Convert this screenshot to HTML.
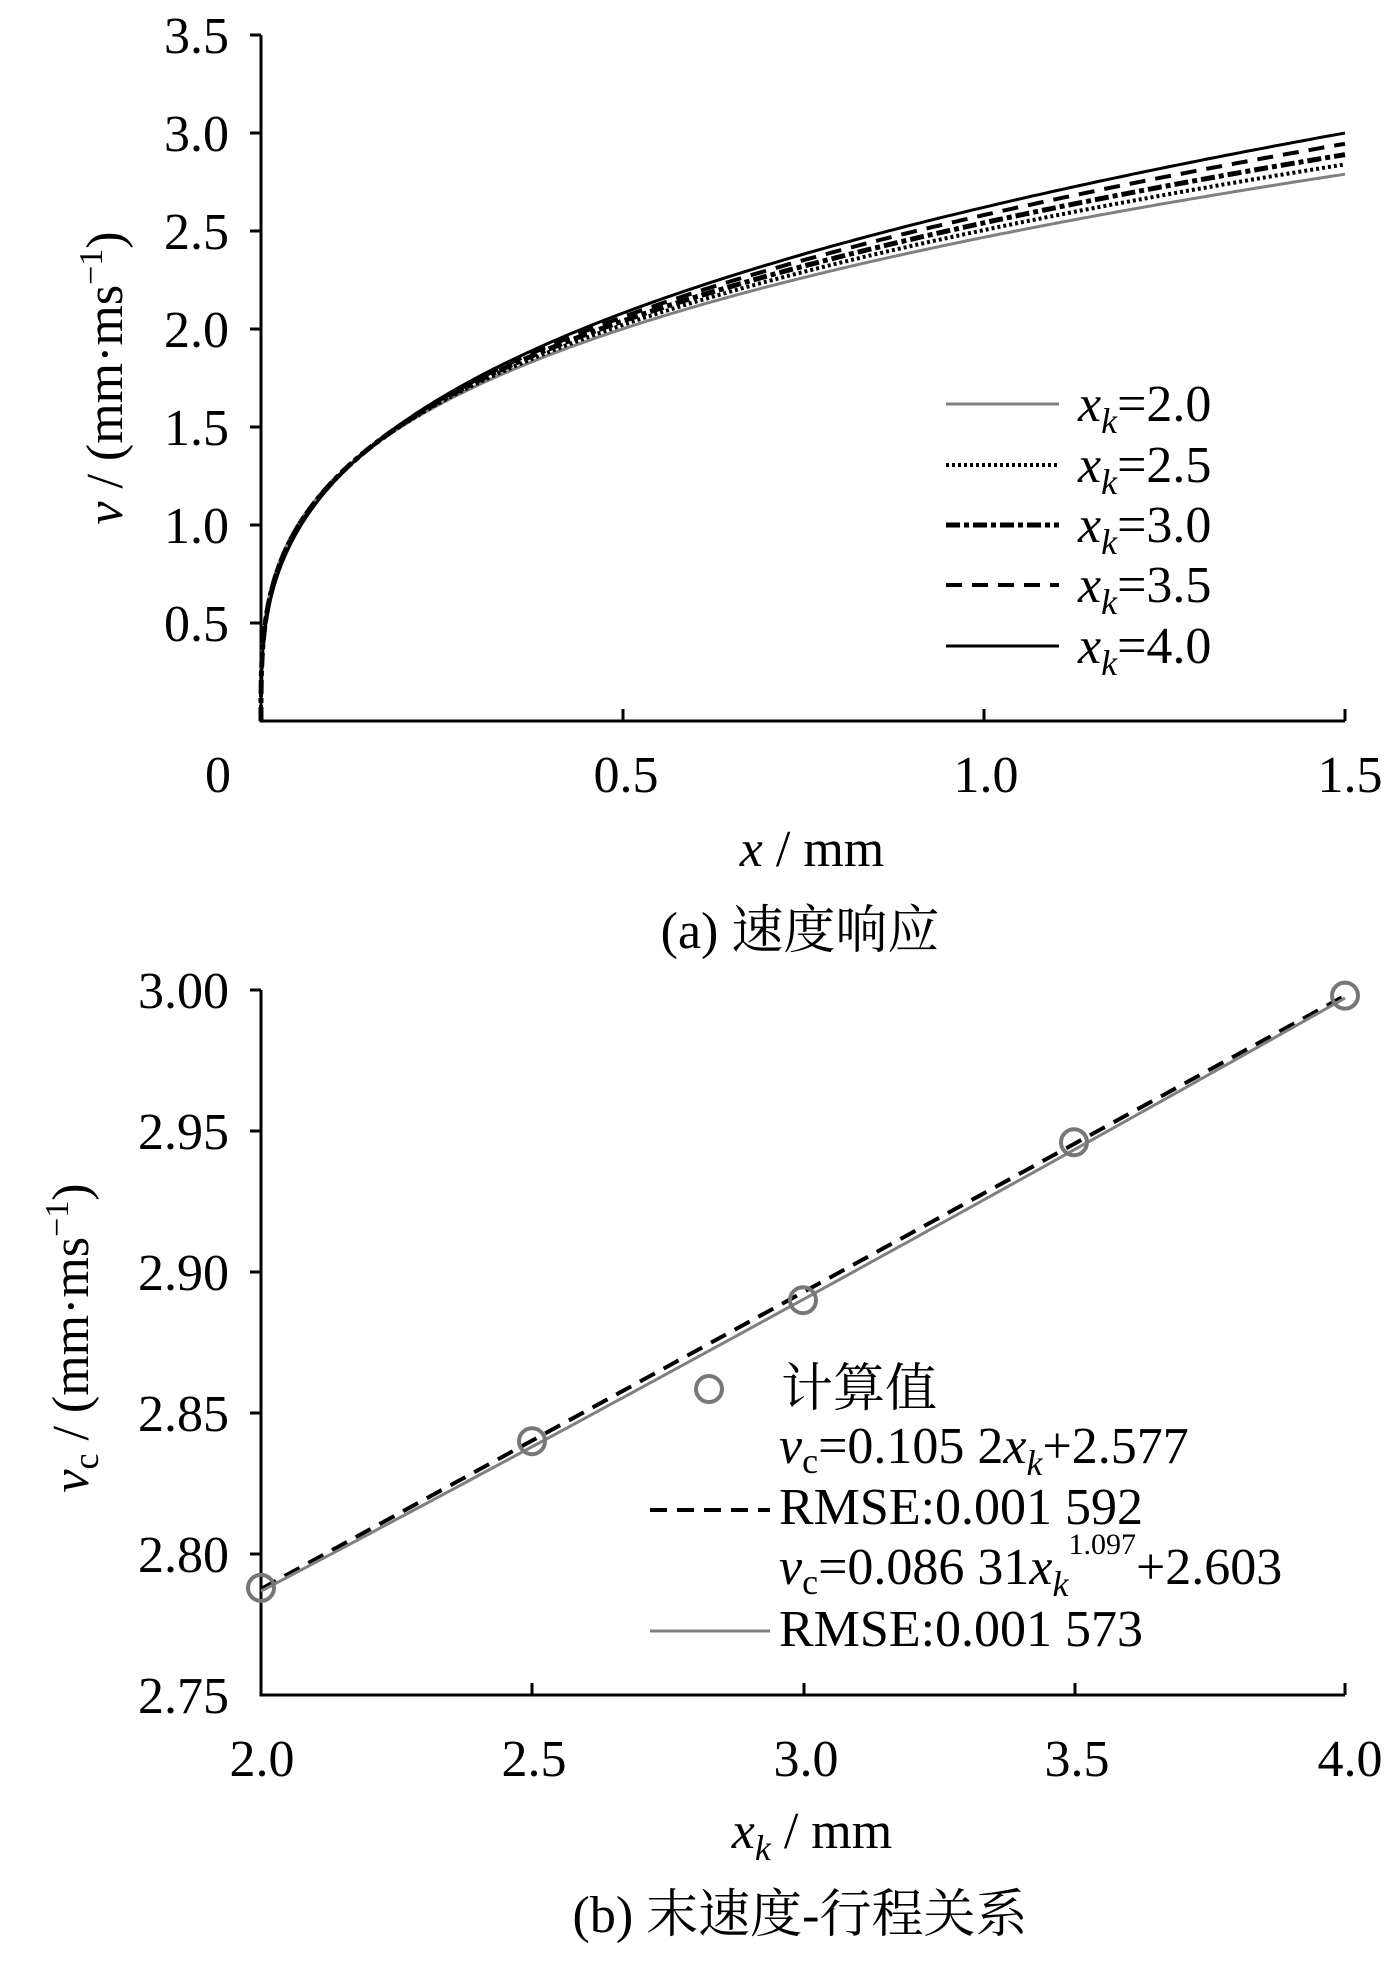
<!DOCTYPE html>
<html><head><meta charset="utf-8">
<style>
html,body{margin:0;padding:0;background:#fff;}
svg{display:block;}
text{font-family:"Liberation Serif","Noto Serif CJK SC","Noto Sans CJK SC",serif;fill:#000;}
</style></head>
<body>
<svg id="s" width="1390" height="1966" viewBox="0 0 1390 1966" xmlns="http://www.w3.org/2000/svg">
<g font-size="52">
<!-- Plot A axes -->
<path d="M261 35 V721 H1345" fill="none" stroke="#000" stroke-width="3"/>
<path d="M250 35H261 M250 133H261 M250 231H261 M250 329H261 M250 427H261 M250 525H261 M250 623H261 M623 721V709 M984 721V709 M1345 721V709" stroke="#000" stroke-width="3"/>
<g text-anchor="end">
<text x="229" y="53">3.5</text><text x="229" y="151">3.0</text><text x="229" y="249">2.5</text>
<text x="229" y="347">2.0</text><text x="229" y="445">1.5</text><text x="229" y="543">1.0</text><text x="229" y="641">0.5</text>
</g>
<g text-anchor="middle">
<text x="218" y="792">0</text><text x="626" y="792">0.5</text><text x="986" y="792">1.0</text><text x="1350" y="792">1.5</text>
<text x="812" y="866"><tspan font-style="italic">x</tspan> / mm</text>
<text x="800" y="948">(a) 速度响应</text>
</g>
<text transform="translate(122,378) rotate(-90)" text-anchor="middle"><tspan font-style="italic">v</tspan> / (mm·ms<tspan dy="-20" font-size="34">−1</tspan><tspan dy="20">)</tspan></text>
<g id="ca"></g>
<!-- legend A -->
<path d="M946 404H1059" stroke="#808080" stroke-width="3"/>
<path d="M946 465H1059" stroke="#000" stroke-width="4" stroke-dasharray="3 3"/>
<path d="M946 525H1059" stroke="#000" stroke-width="5" stroke-dasharray="14 4 5 4"/>
<path d="M946 585H1059" stroke="#000" stroke-width="4" stroke-dasharray="16 10"/>
<path d="M946 646H1059" stroke="#000" stroke-width="3"/>
<g>
<text x="1078" y="421"><tspan font-style="italic">x<tspan font-size="36" dy="12">k</tspan></tspan><tspan dy="-12">=2.0</tspan></text>
<text x="1078" y="482"><tspan font-style="italic">x<tspan font-size="36" dy="12">k</tspan></tspan><tspan dy="-12">=2.5</tspan></text>
<text x="1078" y="542"><tspan font-style="italic">x<tspan font-size="36" dy="12">k</tspan></tspan><tspan dy="-12">=3.0</tspan></text>
<text x="1078" y="602"><tspan font-style="italic">x<tspan font-size="36" dy="12">k</tspan></tspan><tspan dy="-12">=3.5</tspan></text>
<text x="1078" y="663"><tspan font-style="italic">x<tspan font-size="36" dy="12">k</tspan></tspan><tspan dy="-12">=4.0</tspan></text>
</g>

<!-- Plot B axes -->
<path d="M261 990 V1695 H1345" fill="none" stroke="#000" stroke-width="3"/>
<path d="M250 990H261 M250 1131H261 M250 1272H261 M250 1413H261 M250 1554H261 M532 1695V1683 M804 1695V1683 M1075 1695V1683 M1345 1695V1683" stroke="#000" stroke-width="3"/>
<g text-anchor="end">
<text x="229" y="1008">3.00</text><text x="229" y="1149">2.95</text><text x="229" y="1290">2.90</text>
<text x="229" y="1431">2.85</text><text x="229" y="1572">2.80</text><text x="229" y="1713">2.75</text>
</g>
<g text-anchor="middle">
<text x="262" y="1776">2.0</text><text x="534" y="1776">2.5</text><text x="806" y="1776">3.0</text><text x="1077" y="1776">3.5</text><text x="1350" y="1776">4.0</text>
<text x="812" y="1848"><tspan font-style="italic">x<tspan font-size="36" dy="12">k</tspan></tspan><tspan dy="-12"> / mm</tspan></text>
<text x="800" y="1932">(b) 末速度-行程关系</text>
</g>
<text transform="translate(88,1338) rotate(-90)" text-anchor="middle"><tspan font-style="italic">v</tspan><tspan font-size="36" dy="10">c</tspan><tspan dy="-10"> / (mm·ms</tspan><tspan dy="-20" font-size="34">−1</tspan><tspan dy="20">)</tspan></text>
<g id="cb"></g>
<!-- legend B -->
<circle cx="709" cy="1389" r="13" fill="none" stroke="#777" stroke-width="4"/>
<text x="781" y="1406">计算值</text>
<text x="779" y="1463"><tspan font-style="italic">v</tspan><tspan font-size="36" dy="10">c</tspan><tspan dy="-10">=0.105 2</tspan><tspan font-style="italic">x<tspan font-size="36" dy="12">k</tspan></tspan><tspan dy="-12">+2.577</tspan></text>
<path d="M650 1510H770" stroke="#000" stroke-width="4" stroke-dasharray="17 10"/>
<text x="779" y="1524">RMSE:0.001 592</text>
<text x="779" y="1584"><tspan font-style="italic">v</tspan><tspan font-size="36" dy="10">c</tspan><tspan dy="-10">=0.086 31</tspan><tspan font-style="italic">x<tspan font-size="36" dy="12">k</tspan></tspan><tspan font-size="30" dy="-42">1.097</tspan><tspan dy="30">+2.603</tspan></text>
<path d="M650 1631H770" stroke="#808080" stroke-width="3"/>
<text x="779" y="1646">RMSE:0.001 573</text>
</g>
</svg>
<script>
var NS="http://www.w3.org/2000/svg";
function P(g,d,st){var p=document.createElementNS(NS,"path");p.setAttribute("d",d);for(var k in st)p.setAttribute(k,st[k]);g.appendChild(p);}
var ga=document.getElementById("ca");
var X=function(x){return 261+x*(1084/1.5);},Y=function(v){return 721-v*196;};
var ends=[2.79,2.84,2.89,2.945,3.0],mids=[2.0,2.02,2.04,2.06,2.08];
var styles=[{stroke:"#808080","stroke-width":3},{stroke:"#000","stroke-width":4,"stroke-dasharray":"3 3"},{stroke:"#000","stroke-width":5,"stroke-dasharray":"14 4 5 4"},{stroke:"#000","stroke-width":4,"stroke-dasharray":"16 10"},{stroke:"#000","stroke-width":3}];
for(var i=0;i<5;i++){var c=ends[i],p=Math.log(c/mids[i])/Math.log(3),d="";
for(var j=0;j<=300;j++){var x=1.5*Math.pow(j/300,2);var v=c*Math.pow(x/1.5,p);d+=(j?"L":"M")+X(x).toFixed(1)+" "+Y(v).toFixed(1);}
var s=styles[i];s.fill="none";P(ga,d,s);}
var gb=document.getElementById("cb");
var XB=function(x){return 261+(x-2)*542;},YB=function(v){return 990+(3-v)*2820;};
var d="";for(var j=0;j<=40;j++){var x=2+j*0.05;d+=(j?"L":"M")+XB(x)+" "+YB(0.1052*x+2.5772);}
P(gb,d,{fill:"none",stroke:"#000","stroke-width":4,"stroke-dasharray":"17 10"});
d="";for(var j=0;j<=40;j++){var x=2+j*0.05;d+=(j?"L":"M")+XB(x)+" "+YB(0.08631*Math.pow(x,1.097)+2.6029-0.0007);}
P(gb,d,{fill:"none",stroke:"#808080","stroke-width":3});
[[2,2.788],[2.5,2.840],[3,2.890],[3.5,2.946],[4,2.998]].forEach(function(q){var c=document.createElementNS(NS,"circle");c.setAttribute("cx",XB(q[0]));c.setAttribute("cy",YB(q[1]));c.setAttribute("r",13);c.setAttribute("fill","none");c.setAttribute("stroke","#777");c.setAttribute("stroke-width",4);gb.appendChild(c);});
</script>
</body></html>
